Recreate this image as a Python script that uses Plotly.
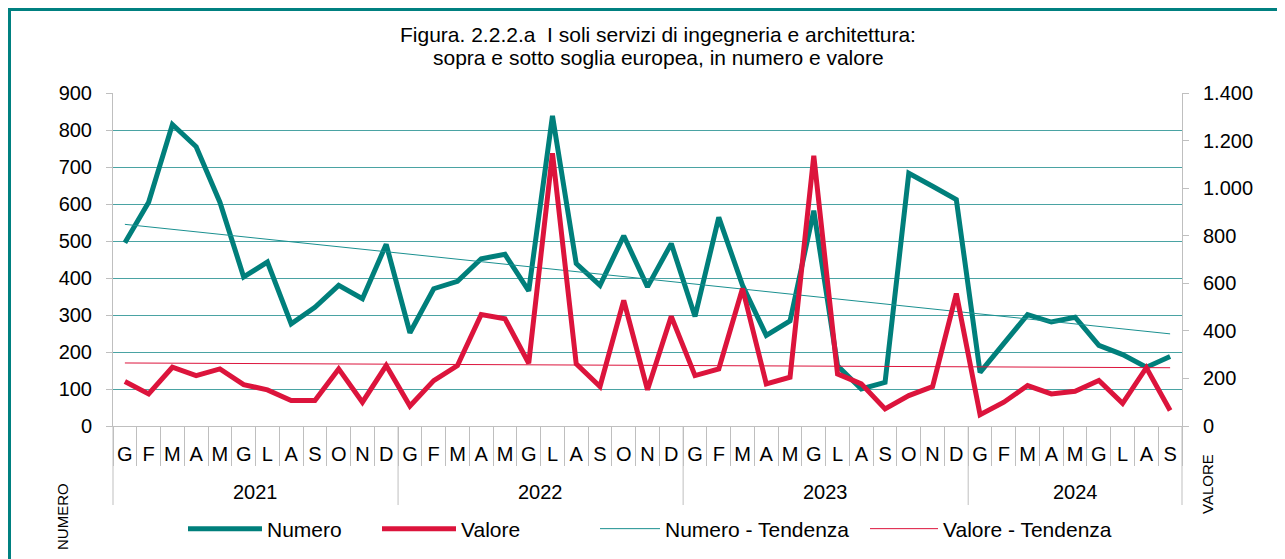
import plotly.graph_objects as go

# ---- data ----
title_lines = ["Figura. 2.2.2.a  I soli servizi di ingegneria e architettura:",
               "sopra e sotto soglia europea, in numero e valore"]
years = ["2021", "2022", "2023", "2024"]
months_per_year = [12, 12, 12, 9]
month_labels = ["G", "F", "M", "A", "M", "G", "L", "A", "S", "O", "N", "D"]

numero = [495, 605, 815, 755, 605, 403, 443, 276, 321, 380, 344, 491,
          252, 371, 391, 452, 464, 365, 838, 439, 380, 514, 376, 493,
          296, 564, 380, 245, 284, 582, 163, 100, 118, 683, 648, 612,
          145, 222, 301, 281, 294, 218, 193, 159, 188]
valore = [187, 135, 247, 212, 240, 174, 152, 107, 107, 240, 100, 254,
          84, 191, 254, 469, 451, 264, 1147, 261, 166, 528, 152, 461,
          212, 240, 578, 177, 205, 1136, 219, 177, 72, 128, 166, 557,
          47, 100, 170, 135, 146, 191, 95, 245, 65]
# trend lines (end points)
numero_trend = [545, 249]
valore_trend = [265, 245]

left_ticks = list(range(0, 901, 100))
right_ticks = list(range(0, 1401, 200))

# ---- derived categories ----
ticktext = []
for n in months_per_year:
    ticktext += month_labels[:n]
n_cat = len(ticktext)
idx = list(range(n_cat))

TEAL = "#007F7B"
RED = "#DC143C"
GRID = "#4AA3A3"
AXC = "#BFBFBF"
FONT = "Liberation Sans, Arial, sans-serif"

# layout geometry (figure pixels; page adds an 8px body offset)
W, H = 1285, 559
ML, MR, MT, MB = 105, 111, 85, 141
PW, PH = W - ML - MR, H - MT - MB


def px(xf):
    return (xf - ML) / PW


def py(yf):
    return (H - MB - yf) / PH


fig = go.Figure()
fig.add_trace(go.Scatter(x=idx, y=numero, name="Numero", mode="lines",
                         line=dict(color=TEAL, width=5), yaxis="y", legend="legend"))
fig.add_trace(go.Scatter(x=idx, y=valore, name="Valore", mode="lines",
                         line=dict(color=RED, width=5), yaxis="y2", legend="legend2"))
fig.add_trace(go.Scatter(x=[idx[0], idx[-1]], y=numero_trend, name="Numero - Tendenza",
                         mode="lines", line=dict(color="#1A9090", width=1), yaxis="y",
                         legend="legend3"))
fig.add_trace(go.Scatter(x=[idx[0], idx[-1]], y=valore_trend, name="Valore - Tendenza",
                         mode="lines", line=dict(color=RED, width=1), yaxis="y2",
                         legend="legend4"))

# boundaries between months / years
boundaries = [i - 0.5 for i in range(n_cat + 1)]
year_bounds = [-0.5]
for n in months_per_year:
    year_bounds.append(year_bounds[-1] + n)
year_centers = [(year_bounds[k] + year_bounds[k + 1]) / 2 for k in range(len(years))]

shapes = []
for b in year_bounds:
    shapes.append(dict(type="line", xref="paper", yref="paper",
                       x0=(b + 0.5) / n_cat, x1=(b + 0.5) / n_cat, y0=0, y1=py(497),
                       line=dict(color=AXC, width=1)))
# outer frame
shapes.append(dict(type="rect", xref="paper", yref="paper",
                   x0=px(1.5), x1=px(W + 50), y0=py(H + 50), y1=py(1.5),
                   line=dict(color="#008080", width=3), fillcolor="rgba(0,0,0,0)"))

annotations = []
for k, line in enumerate(title_lines):
    annotations.append(dict(text=line, x=px(650), xref="paper", y=py(27 + 22.5 * k),
                            yref="paper", showarrow=False, xanchor="center", yanchor="middle",
                            font=dict(size=21, color="black", family=FONT)))
for yr, c in zip(years, year_centers):
    annotations.append(dict(text=yr, x=c, xref="x", y=py(484), yref="paper",
                            showarrow=False, font=dict(size=20, color="black", family=FONT),
                            xanchor="center", yanchor="middle"))
annotations.append(dict(text="NUMERO", textangle=-90, x=px(54), xref="paper",
                        y=py(509), yref="paper", showarrow=False,
                        xanchor="center", yanchor="middle",
                        font=dict(size=15, color="black", family=FONT)))
annotations.append(dict(text="VALORE", textangle=-90, x=px(1199), xref="paper",
                        y=py(476), yref="paper", showarrow=False,
                        xanchor="center", yanchor="middle",
                        font=dict(size=15, color="black", family=FONT)))


def legend_at(xfig, itemw):
    return dict(orientation="h", x=px(xfig), xanchor="left", y=py(521), yanchor="middle",
                font=dict(size=21, family=FONT), bgcolor="rgba(0,0,0,0)", itemwidth=itemw)


fig.update_layout(
    width=W, height=H,
    margin=dict(l=ML, r=MR, t=MT, b=MB, autoexpand=False),
    paper_bgcolor="white", plot_bgcolor="white",
    font=dict(family=FONT, size=20, color="black"),
    separators=",.",
    showlegend=True,
    legend=legend_at(175, 74),
    legend2=legend_at(369, 74),
    legend3=legend_at(587, 60),
    legend4=legend_at(857, 68),
    xaxis=dict(range=[-0.5, n_cat - 0.5], tickmode="array", tickvals=idx, ticktext=ticktext,
               ticks="", showline=True, linecolor=AXC, linewidth=1, showgrid=False,
               zeroline=False, ticklabelstandoff=10,
               minor=dict(tickmode="array", tickvals=boundaries, ticks="outside",
                          ticklen=39, tickcolor=AXC, tickwidth=1, showgrid=False)),
    yaxis=dict(range=[0, 900], tickmode="array", tickvals=left_ticks, showgrid=True,
               gridcolor=GRID, gridwidth=1, zeroline=False, showline=True, linecolor=AXC,
               ticks="outside", ticklen=6, tickcolor=AXC, ticklabelstandoff=10),
    yaxis2=dict(range=[0, 1400], tickmode="array", tickvals=right_ticks, overlaying="y",
                side="right", showgrid=False, zeroline=False, showline=True, linecolor=AXC,
                ticks="outside", ticklen=6, tickcolor=AXC, separatethousands=True,
                tickformat=",d", ticklabelstandoff=10),
    shapes=shapes, annotations=annotations,
)

fig.write_html("out.html")
